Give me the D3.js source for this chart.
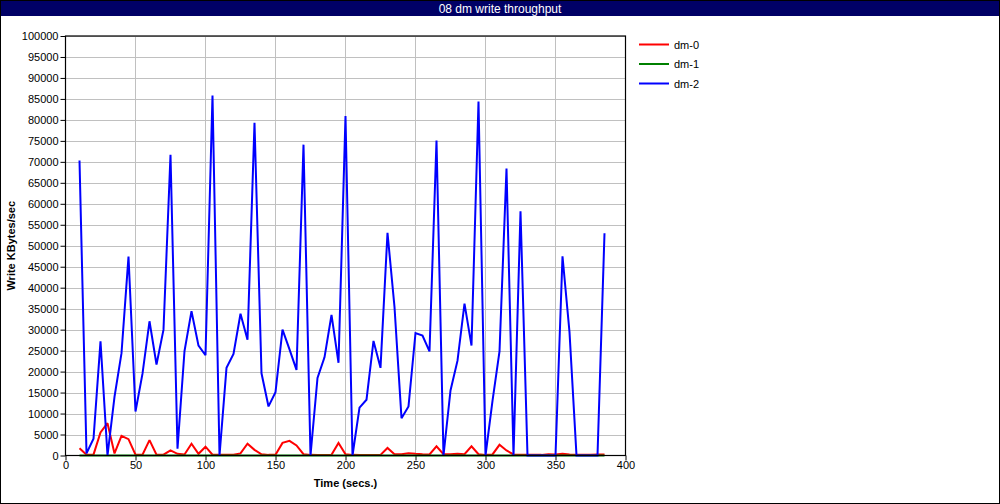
<!DOCTYPE html>
<html><head><meta charset="utf-8">
<script src="https://cdn.jsdelivr.net/npm/d3@7"></script>
<style>body{margin:0;background:#fff}svg{display:block;font-family:"Liberation Sans",Arial,sans-serif}</style>
</head><body>
<svg id="c" width="1000" height="504"></svg>
<script>
const title = "08 dm write throughput";
const xLabel = "Time (secs.)";
const yLabel = "Write KBytes/sec";
const seriesNames = ["dm-0", "dm-1", "dm-2"];
const seriesColors = ["#ff0000", "#008000", "#0000ff"];
const time = [10,15,20,25,30,35,40,45,50,55,60,65,70,75,80,85,90,95,100,105,110,115,120,125,130,135,140,145,150,155,160,165,170,175,180,185,190,195,200,205,210,215,220,225,230,235,240,245,250,255,260,265,270,275,280,285,290,295,300,305,310,315,320,325,330,335,340,345,350,355,360,365,370,375,380,385];
const dm0 = [1750,200,200,5500,7700,500,4700,3900,200,200,3650,200,200,1200,400,250,2800,400,2100,200,150,150,200,500,2800,1350,300,150,150,3000,3500,2400,300,150,100,100,150,3000,300,150,100,100,100,150,1800,300,300,550,400,300,250,2200,300,300,400,300,2200,300,150,250,2550,1200,250,150,150,150,150,300,250,400,250,150,150,150,250,250];
const dm1 = [0,0,0,0,0,0,0,0,0,0,0,0,0,0,0,0,0,0,0,0,0,0,0,0,0,0,0,0,0,0,0,0,0,0,0,0,0,0,0,0,0,0,0,0,0,0,0,0,0,0,0,0,0,0,0,0,0,0,0,0,0,0,0,0,0,0,0,0,0,0,0,0,0,0,0,0];
const dm2 = [70300,500,4000,27200,0,14000,24400,47400,10500,19500,32000,21700,30000,71700,1600,24900,34400,26200,23900,85800,0,20900,24200,33800,27600,79300,19600,11700,15100,30000,25300,20400,74100,0,18500,23400,33500,22100,80900,0,11400,13300,27300,20900,53100,35400,8900,11700,29200,28600,24800,75100,0,15500,22600,36200,26200,84400,0,13000,24800,68400,0,58200,0,0,0,0,0,47500,29400,0,0,0,0,53000];
const xTicks = [0,50,100,150,200,250,300,350,400];
const yTicks = [0,5000,10000,15000,20000,25000,30000,35000,40000,45000,50000,55000,60000,65000,70000,75000,80000,85000,90000,95000,100000];

const svg = d3.select("#c");
const L = 65.5, R = 625.5, T = 36, B = 455.5;
const x = d3.scaleLinear().domain([0, 400]).range([L, R]);
const y = d3.scaleLinear().domain([0, 100000]).range([B, T]);

// outer border
svg.append("rect").attr("x",0.5).attr("y",0.5).attr("width",999).attr("height",503)
  .attr("fill","#fff").attr("stroke","#000");
// title bar
svg.append("rect").attr("x",1).attr("y",1).attr("width",998).attr("height",15).attr("fill","#000066");
svg.append("text").attr("x",500).attr("y",12.5).attr("text-anchor","middle")
  .attr("fill","#fff").attr("font-size",12).text(title);

// grid
const g = svg.append("g");
g.selectAll(".gy").data(yTicks.slice(1)).join("line")
  .attr("x1",L).attr("x2",R).attr("y1",d=>Math.round(y(d))+0.5).attr("y2",d=>Math.round(y(d))+0.5)
  .attr("stroke","#c0c0c0").attr("stroke-width",1);
g.selectAll(".gx").data(xTicks.slice(1)).join("line")
  .attr("y1",T).attr("y2",B).attr("x1",d=>x(d)).attr("x2",d=>x(d))
  .attr("stroke","#c0c0c0").attr("stroke-width",1);

// axes
const yAxis = d3.axisLeft(y).tickValues(yTicks).tickSize(5).tickPadding(2).tickFormat(d3.format("d"));
const xAxis = d3.axisBottom(x).tickValues(xTicks).tickSize(5).tickPadding(1).tickFormat(d3.format("d"));
const ya = svg.append("g").attr("transform",`translate(${L},0)`).call(yAxis);
const xa = svg.append("g").attr("transform",`translate(0,${B})`).call(xAxis);
[ya, xa].forEach(a => {
  a.select(".domain").remove();
  a.selectAll("line").attr("stroke","#000");
  a.selectAll("text").attr("font-size",11).attr("font-family","Liberation Sans, Arial, sans-serif").attr("fill","#000");
});

// lines
const series = [dm0, dm1, dm2];
const line = d3.line().x((d,i)=>x(time[i])).y(d=>y(d));
series.forEach((s, k) => {
  svg.append("path").datum(s).attr("d", line).attr("fill","none")
    .attr("stroke", seriesColors[k]).attr("stroke-width", 2).attr("stroke-linejoin","miter").attr("stroke-miterlimit",2);
});

// frame
svg.append("rect").attr("x",L).attr("y",T).attr("width",R-L).attr("height",B-T)
  .attr("fill","none").attr("stroke","#000").attr("stroke-width",1.2);

// axis titles
svg.append("text").attr("x",(L+R)/2).attr("y",487).attr("text-anchor","middle")
  .attr("font-size",11).attr("font-weight","bold").text(xLabel);
svg.append("text").attr("transform",`translate(15,${(T+B)/2}) rotate(-90)`).attr("text-anchor","middle")
  .attr("font-size",11).attr("font-weight","bold").text(yLabel);

// legend
const lg = svg.append("g");
seriesNames.forEach((n, k) => {
  const yy = 44.5 + k * 19.5;
  lg.append("line").attr("x1",639).attr("x2",669).attr("y1",yy).attr("y2",yy)
    .attr("stroke",seriesColors[k]).attr("stroke-width",2);
  lg.append("text").attr("x",674).attr("y",yy+4).attr("font-size",11).text(n);
});
</script>
</body></html>
